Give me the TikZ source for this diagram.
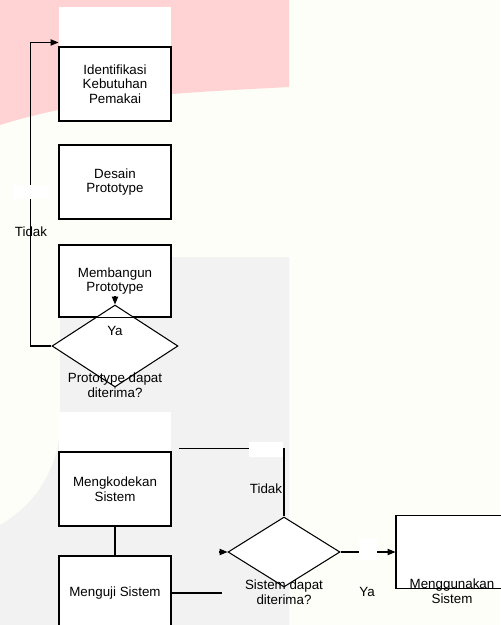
\documentclass[tikz,border=0pt]{standalone}
\usepackage{fontspec}
\setmainfont{Liberation Sans}
\usetikzlibrary{calc,shapes.geometric,arrows.meta}

\definecolor{pagebg}{HTML}{FEFEF8}
\definecolor{wmpink}{HTML}{FFD3D3}
\definecolor{wmgrey}{HTML}{F2F2F2}

\begin{document}
\begin{tikzpicture}[x=0.02cm, y=-0.02cm]
    \tikzstyle{every node}=[inner sep=0, font=\fontsize{7.6}{8.3}\selectfont, align=center]
    \tikzstyle{box}=[draw, fill=white, line width=.6pt, minimum width=2.24cm, minimum height=1.48cm]
    \tikzstyle{cek}=[draw, fill=white, diamond, line width=.6pt]
    \tikzstyle{tip}=[-{Triangle[length=4.5pt,width=3.6pt]}]
    % Background of the page, with the watermark
    \useasboundingbox (0,0) rectangle (500,625);
    \fill[pagebg] (0,0) rectangle (500,625);
    \fill[wmpink] (0,0) -- (289,0) -- (289,87) .. controls (200,92) and (100,94) .. (0,125) -- cycle;
    \fill[wmgrey] (60,270) .. controls (60,262) and (65,257) .. (73,257) -- (289,257) -- (289,625) -- (0,625) -- (0,525) .. controls (35,505) and (57,470) .. (60,430) -- cycle;
    \fill[white] (59,7) rectangle (171,47);
    \fill[white] (59,412) rectangle (171,452);
    % Prototyping loop
    \node[box] (IDENT) at (115,84) {Identifikasi\\Kebutuhan\\Pemakai};
    \node[box] (DESAIN) at ($(IDENT)+(0,98)$) {Desain\\Prototype};
    \node[box, minimum height=1.44cm] (BANGUN) at ($(DESAIN)+(0,99)$) {Membangun\\Prototype};
    \node[cek, minimum width=2.52cm, minimum height=1.64cm] (CEK1) at ($(BANGUN)+(0,65)$) {};
    \draw[line width=.6pt] (BANGUN.south west) -- (BANGUN.south east);
    \node (YA1) at ($(CEK1)+(0,-15)$) {Ya};
    \node (TANYA1) at ($(CEK1)+(0,39)$) {Prototype dapat\\diterima?};
    \node (TIDAK1) at (31,232) {Tidak};
    \draw[line width=.6pt, tip] (CEK1.west) -- ++(-21,0) |- ($(IDENT.north west)+(0,-4)$);
    \draw[line width=.6pt, tip] ($(CEK1.north)+(0,-8)$) -- (CEK1.north);
    \fill[white] (13,185) rectangle (49,199);
    % Coding and testing
    \node[box] (KODE) at (115,489) {Mengkodekan\\Sistem};
    \node[box] (UJI) at ($(KODE)+(0,104)$) {Menguji Sistem};
    \node[cek, minimum width=2.24cm, minimum height=1.4cm] (CEK2) at (284,552) {};
    \node (TANYA2) at ($(CEK2)+(0,40)$) {Sistem dapat\\diterima?};
    \node (TIDAK2) at ($(CEK2)+(-18,-63)$) {Tidak};
    \node[box, minimum height=1.46cm] (PAKAI) at (452,552) {};
    \node (PAKAITXT) at ($(PAKAI.south)+(0,2)$) {Menggunakan\\Sistem};
    \node (YA2) at ($(CEK2)+(83,40)$) {Ya};
    \draw[line width=.6pt] (KODE) -- (UJI);
    \draw[line width=.6pt] (UJI.east) -- ++(50,0) coordinate (UJIEND);
    \draw[line width=.6pt, tip] ($(CEK2.west)+(-8,0)$) -- (CEK2.west);
    \draw[line width=.6pt] (CEK2.north) -- ++(0,-68) -- ++(-105,0) coordinate (BALIK);
    \draw[line width=.6pt, tip] (CEK2.east) -- (PAKAI.west);
    \fill[white] (249,442) rectangle (283,457);
    \fill[white] (359,538) rectangle (377,560);
\end{tikzpicture}
\end{document}
